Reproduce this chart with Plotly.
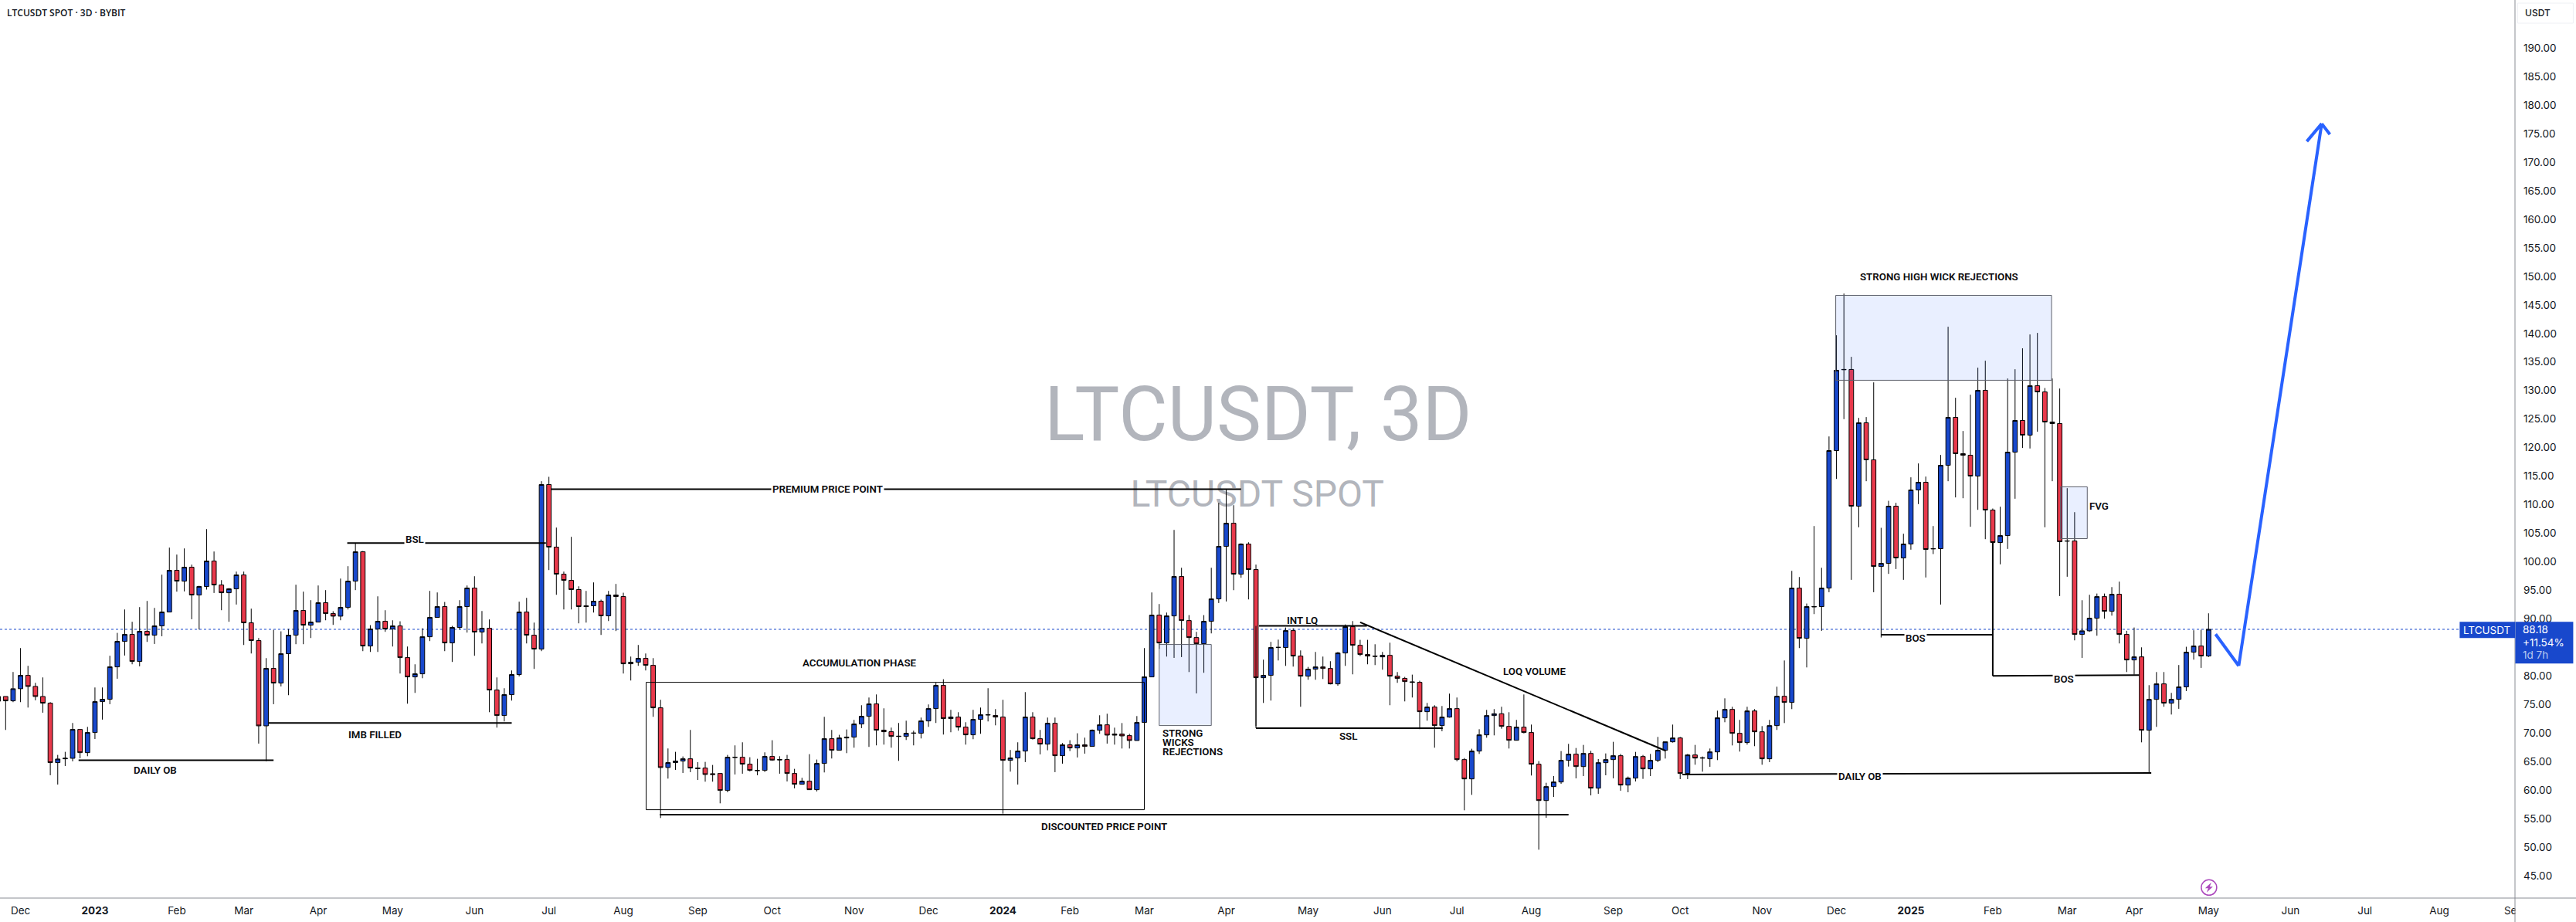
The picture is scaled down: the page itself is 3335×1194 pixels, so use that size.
import plotly.graph_objects as go

# LTCUSDT spot, three-day candles. Candles are addressed by their position in the lists.
opens = [
    75.60,76.42,75.66,77.78,80.12,78.18,76.42,75.25,64.84,65.51,
    65.60,70.65,66.59,70.11,75.52,75.93,81.61,86.07,87.29,82.56,
    87.83,87.16,88.78,91.21,98.52,96.62,99.06,94.19,95.68,100.14,
    95.95,94.59,95.27,97.71,89.32,86.21,71.28,81.34,78.77,83.91,
    87.16,91.48,88.91,89.45,92.84,90.94,90.49,92.02,96.62,101.76,
    85.26,88.24,89.59,88.24,88.78,83.23,79.85,80.39,86.88,90.27,
    92.16,85.80,88.51,92.16,95.41,87.70,88.37,77.55,73.09,76.74,
    80.26,91.21,87.16,84.72,113.53,102.58,97.84,96.76,95.14,92.30,
    92.30,93.11,90.54,94.19,93.92,82.15,82.42,83.10,81.88,74.44,
    63.98,64.84,65.11,65.51,63.89,63.89,62.90,62.94,59.97,65.74,
    65.78,64.57,63.48,63.48,65.92,65.38,65.38,62.94,61.05,61.59,
    60.10,64.70,69.03,67.00,69.16,69.30,71.60,72.95,75.12,70.52,
    70.25,69.48,69.43,69.98,69.98,72.14,74.30,78.36,72.55,72.82,
    71.06,69.71,72.41,73.18,73.09,72.82,65.24,65.65,66.86,72.82,
    69.03,68.08,71.73,66.05,67.95,67.41,67.95,67.68,70.51,71.46,
    69.84,69.84,69.57,68.71,71.87,79.85,90.67,85.80,90.53,97.43,
    89.72,86.74,85.66,89.59,93.51,102.71,106.76,97.84,103.11,98.65,
    79.71,80.12,84.99,84.99,87.96,83.50,79.98,81.20,81.60,81.33,
    78.63,84.04,88.64,85.39,83.77,83.50,83.36,83.63,79.98,79.58,
    78.99,78.90,73.76,74.57,71.32,72.81,74.30,65.37,61.99,66.86,
    69.70,73.08,73.40,71.19,68.75,71.05,70.11,64.56,58.20,60.64,
    61.45,65.24,66.32,64.15,66.45,60.37,64.83,65.37,66.05,60.91,
    62.13,65.91,63.75,65.24,67.00,68.48,69.16,62.94,66.18,65.69,
    65.51,66.72,72.68,74.16,69.97,68.35,73.89,70.24,65.51,71.32,
    76.46,75.38,95.40,86.61,92.11,92.16,95.41,119.48,133.64,133.69,
    109.75,124.35,117.86,99.19,99.74,109.75,100.68,103.12,112.59,113.94,
    102.26,102.31,116.91,125.30,118.94,118.67,115.02,130.04,109.07,103.39,
    104.60,119.21,124.76,122.19,130.85,129.76,124.49,124.22,103.61,103.65,
    87.29,87.92,90.13,93.91,91.34,94.32,87.29,82.82,83.36,70.51,
    75.92,78.63,75.25,75.93,78.10,84.18,85.26,83.51,
]
highs = [
    79.13,76.42,80.71,84.90,81.79,78.81,79.76,75.43,66.19,66.73,
    71.78,70.65,71.10,78.00,78.00,83.55,87.56,91.66,89.50,92.07,
    93.15,91.93,97.75,102.49,101.27,102.35,99.51,95.81,105.73,101.81,
    96.80,95.41,98.29,98.29,91.80,86.66,83.14,88.10,87.83,88.24,
    95.99,94.78,93.29,95.86,95.05,91.35,97.07,99.24,103.25,101.90,
    88.91,93.96,91.53,89.77,89.59,85.17,82.06,88.37,94.91,94.64,
    92.97,88.78,93.29,95.86,97.48,91.39,89.91,79.76,77.87,80.98,
    93.02,93.69,89.36,114.12,114.89,106.00,98.29,104.38,95.72,94.91,
    96.40,93.38,94.91,96.13,94.59,83.41,85.44,83.95,83.14,75.84,
    67.32,66.73,65.92,70.56,64.93,64.97,64.43,62.94,66.19,67.86,
    68.40,65.78,65.51,66.64,68.76,65.96,66.19,63.75,62.18,66.32,
    65.38,72.86,70.56,69.71,70.65,72.32,74.89,76.24,76.78,74.35,
    70.97,71.78,72.18,70.43,72.73,75.03,78.81,79.44,74.08,73.67,
    71.91,74.08,74.48,77.87,74.21,75.84,67.05,68.40,77.19,73.67,
    70.56,72.73,72.73,68.26,68.76,69.98,69.21,70.65,73.13,73.40,
    70.96,71.77,69.88,72.99,84.90,94.64,92.61,91.12,105.59,98.96,
    90.67,87.74,90.67,98.96,110.33,112.72,109.92,103.25,103.43,99.51,
    82.87,85.98,86.38,88.50,88.37,84.49,81.60,84.22,83.41,82.60,
    84.22,89.04,89.63,86.34,86.34,85.57,84.22,85.84,80.70,79.85,
    80.25,79.17,75.29,74.89,74.75,76.92,76.24,65.64,67.27,70.69,
    74.07,74.21,74.62,73.67,72.32,76.78,71.50,65.10,61.31,62.49,
    66.86,68.12,67.40,67.94,66.90,65.46,66.45,68.48,66.36,62.40,
    66.72,66.18,66.36,69.34,68.48,71.50,69.34,66.36,67.94,65.91,
    67.31,73.94,76.10,74.62,72.32,74.62,74.21,71.23,72.32,78.13,
    82.73,98.42,97.34,92.70,106.27,98.96,121.96,139.68,146.99,135.90,
    125.21,125.35,131.43,105.96,110.69,110.33,104.92,114.80,117.23,114.93,
    106.27,118.72,141.17,128.73,122.91,129.27,134.00,135.22,109.34,109.65,
    132.11,133.73,137.39,139.82,140.09,130.44,132.11,130.35,112.90,108.70,
    93.28,94.23,94.45,94.45,95.58,96.53,87.92,88.50,85.03,78.40,
    80.70,80.70,77.05,81.93,85.13,88.02,88.10,90.99,
]
lows = [
    75.52,70.56,75.43,75.43,74.48,75.75,73.58,62.63,61.00,64.25,
    65.06,65.60,65.96,68.98,72.37,75.07,79.53,83.59,82.06,81.70,
    85.98,85.62,86.97,91.21,94.78,94.82,89.95,88.15,95.14,94.55,
    91.53,89.50,92.52,85.44,83.95,68.17,65.06,75.07,78.18,76.65,
    85.58,85.58,86.66,89.45,89.77,88.96,89.77,91.66,95.05,84.36,
    84.22,84.22,87.74,85.17,80.44,75.16,77.05,79.62,86.12,90.27,
    84.36,82.47,88.15,87.61,83.55,85.71,73.67,70.97,72.05,75.70,
    79.94,85.71,81.25,84.36,98.56,94.23,91.66,91.66,89.23,89.36,
    91.12,87.20,89.63,87.88,80.44,79.22,81.79,80.98,72.86,55.14,
    62.04,63.57,63.03,63.17,61.81,61.50,61.50,57.71,59.65,62.76,
    62.90,63.30,62.63,63.21,65.15,62.90,61.54,60.33,61.00,60.06,
    59.79,63.12,65.56,67.00,66.50,67.45,70.88,67.59,67.86,67.99,
    67.45,65.15,68.80,67.86,69.07,71.10,71.78,69.75,70.16,70.43,
    67.99,68.94,69.89,72.05,71.37,55.91,63.26,61.00,64.93,68.89,
    66.28,67.00,63.17,64.66,66.86,65.74,66.41,67.68,69.88,68.17,
    67.99,67.31,67.31,68.71,71.77,79.80,84.76,83.41,83.18,83.32,
    80.70,76.96,80.57,87.47,92.79,93.06,95.04,97.21,93.42,71.23,
    75.29,75.70,82.73,81.78,81.65,74.62,79.35,79.35,79.48,78.54,
    78.31,81.78,80.30,83.50,82.06,81.92,81.11,74.89,78.81,75.56,
    76.24,70.69,72.18,67.45,70.33,72.72,65.06,56.49,59.19,66.36,
    69.20,69.61,70.78,67.31,68.71,69.97,62.58,49.59,55.18,58.83,
    61.13,64.15,62.08,62.49,59.10,59.38,62.62,62.08,59.92,59.65,
    61.54,61.99,62.49,64.92,65.55,68.35,61.95,61.95,64.47,63.25,
    64.11,65.28,71.91,67.85,66.77,67.99,67.72,64.47,64.92,70.56,
    71.77,74.21,84.90,81.51,90.85,87.92,94.68,114.52,124.99,96.85,
    106.05,114.12,94.68,86.75,97.89,98.74,96.85,102.13,110.11,97.26,
    101.36,92.52,114.12,111.28,111.14,106.14,109.11,103.97,103.03,99.56,
    102.26,111.05,119.94,119.85,122.78,106.05,114.12,94.01,97.39,86.25,
    83.18,87.74,87.06,90.04,90.58,85.71,80.70,80.25,68.39,63.12,
    71.10,74.62,73.26,74.26,77.37,82.87,81.43,83.33,
]
closes = [
    76.42,75.66,77.78,80.12,78.18,76.42,75.25,64.84,65.47,65.60,
    70.65,66.59,70.11,75.52,75.93,81.61,86.07,87.29,82.56,87.83,
    87.16,88.78,91.21,98.52,96.62,99.06,94.19,95.68,100.14,95.95,
    94.59,95.27,97.71,89.32,86.21,71.28,81.34,78.77,83.91,87.16,
    91.48,88.91,89.45,92.84,90.94,90.49,92.02,96.62,101.76,85.26,
    88.24,89.59,88.24,88.78,83.23,79.85,80.39,86.88,90.27,92.16,
    85.80,88.51,92.16,95.41,87.70,88.37,77.55,73.09,76.74,80.26,
    91.21,87.16,84.72,113.53,102.58,97.84,96.76,95.14,92.16,92.16,
    93.11,90.54,94.19,93.92,82.15,82.42,83.10,81.88,74.44,63.98,
    64.84,65.11,65.51,63.89,63.80,62.76,62.76,59.97,65.78,65.78,
    64.57,63.48,63.44,65.92,65.29,65.33,62.94,61.05,61.59,60.10,
    64.70,69.03,67.00,69.16,69.30,71.60,72.95,75.12,70.52,70.25,
    69.43,69.43,69.98,70.02,72.14,74.30,78.36,72.55,72.82,71.06,
    69.71,72.41,73.22,73.22,72.82,65.24,65.65,66.86,72.82,69.03,
    68.08,71.73,66.05,67.95,67.41,67.95,67.68,70.52,71.46,69.66,
    69.66,69.52,68.71,71.87,79.85,90.67,85.80,90.53,97.43,89.72,
    86.74,85.66,89.59,93.51,102.71,106.76,97.84,103.11,98.65,79.71,
    80.12,84.99,85.03,87.96,83.50,79.98,81.20,81.60,81.33,78.63,
    84.04,88.64,85.39,83.77,83.50,83.45,83.63,79.98,79.58,79.03,
    78.90,73.76,74.57,71.32,72.81,74.30,65.37,61.99,66.86,69.70,
    73.08,73.40,71.19,68.75,71.05,70.11,64.56,58.20,60.64,61.45,
    65.24,66.32,64.15,66.45,60.37,64.83,65.37,66.05,60.91,62.13,
    65.91,63.75,65.24,67.00,68.48,69.16,62.94,66.18,65.64,65.64,
    66.72,72.68,74.16,69.97,68.35,73.89,70.24,65.51,71.32,76.46,
    75.38,95.40,86.61,92.16,92.16,95.40,119.48,133.55,133.69,109.75,
    124.35,117.86,99.19,99.74,109.75,100.68,103.12,112.59,113.94,102.17,
    102.31,116.91,125.30,118.94,118.67,115.02,130.04,109.07,103.39,104.60,
    119.21,124.76,122.19,130.85,129.76,124.49,124.22,103.52,103.66,87.29,
    87.92,90.13,93.91,91.34,94.32,87.29,82.82,83.36,70.51,75.92,
    78.63,75.25,75.92,78.10,84.18,85.26,83.51,88.18,
]

month_ticks = [3, 13, 24, 33, 43, 53, 64, 74, 84, 94, 104, 115, 125, 135, 144, 154, 165, 176,
               186, 196, 206, 217, 226, 237, 247, 257, 268, 278, 287, 297, 308, 318, 328, 338]
month_labels = ["Dec", "<b>2023</b>", "Feb", "Mar", "Apr", "May", "Jun", "Jul", "Aug", "Sep", "Oct", "Nov",
                "Dec", "<b>2024</b>", "Feb", "Mar", "Apr", "May", "Jun", "Jul", "Aug", "Sep", "Oct", "Nov",
                "Dec", "<b>2025</b>", "Feb", "Mar", "Apr", "May", "Jun", "Jul", "Aug", "Sep"]
price_ticks = list(range(45, 195, 5))
last_price = 88.18

# Hand-drawn levels: (first candle, first price, last candle, last price, width)
levels = [
    (10.8, 65.25, 37.0, 65.25, 2),      # daily order block, left
    (36.3, 71.78, 69.0, 71.78, 2),      # imbalance filled
    (46.9, 103.30, 73.6, 103.30, 2),    # buy-side liquidity
    (74.3, 112.72, 167.0, 112.72, 2),   # premium level
    (88.9, 55.73, 211.0, 55.73, 2),     # discount level
    (169.4, 88.78, 183.9, 88.78, 2),    # internal liquidity
    (169.0, 70.88, 194.1, 70.88, 2),    # sell-side liquidity
    (169.0, 88.78, 169.0, 70.88, 1),
    (183.0, 89.41, 224.05, 66.91, 2),   # falling volume trend
    (226.3, 62.76, 289.3, 63.03, 2),    # daily order block, right
    (253.0, 87.24, 268.0, 87.24, 2),    # first break of structure
    (268.0, 103.40, 268.0, 80.03, 2),
    (268.0, 80.03, 287.7, 80.16, 2),    # second break of structure
]

# Shaded and outlined zones: (left candle, top price, right candle, bottom price, filled)
zones = [
    (87.06, 78.90, 154.0, 56.59, False),
    (156.0, 85.53, 163.0, 71.33, True),
    (246.9, 146.67, 275.9, 131.80, True),
    (277.1, 113.13, 280.7, 104.07, True),
]

# Chart notes: (text, candle, price, masks the level it sits on)
notes = [
    ("DAILY OB", 21.1, 63.45, False),
    ("IMB FILLED", 50.67, 69.66, False),
    ("BSL", 56.0, 103.95, True),
    ("PREMIUM PRICE POINT", 111.4, 112.75, True),
    ("ACCUMULATION PHASE", 115.75, 82.24, False),
    ("DISCOUNTED PRICE POINT", 148.6, 53.66, False),
    ("INT LQ", 175.2, 89.80, False),
    ("SSL", 181.4, 69.43, False),
    ("LOQ VOLUME", 206.4, 80.75, False),
    ("DAILY OB", 250.2, 62.40, True),
    ("BOS", 257.6, 86.57, True),
    ("BOS", 277.6, 79.44, True),
    ("STRONG HIGH WICK REJECTIONS", 260.8, 149.88, False),
]
left_notes = [
    ("FVG", 280.9, 109.70),
    ("STRONG", 156.3, 70.00),
    ("WICKS", 156.3, 68.38),
    ("REJECTIONS", 156.3, 66.75),
]

# Projected path and its arrow head
path_candles = [297.94, 301.05, 312.2]
path_prices = [87.34, 81.79, 176.74]
head_candles = [310.2, 312.2, 313.3]
head_prices = [173.63, 176.74, 174.85]

PAGE_W, PAGE_H = 3335, 1194
PLOT_W, PLOT_H = 3255.6, 1162.7
INK = "#131722"
NOTE_INK = "#0b0b0d"
BLUE = "#1848cc"
RED = "#e8394b"
ZONE_FILL = "rgba(41,98,255,0.10)"
ZONE_EDGE = "#5d606b"
ARROW = "#2962ff"
NOTE_FONT = dict(family="Roboto", size=13.3, color=NOTE_INK, weight=600)
AXIS_FONT = dict(family="Inter", size=13.5, color=INK)


def fx(px):
    return px / PLOT_W


def fy(py):
    return 1 - py / PLOT_H


fig = go.Figure()

# The watermark sits on the base axes so the candles, on the overlaying axes, cover it.
fig.add_trace(go.Scatter(
    x=[fx(1628.5), fx(1627.5)], y=[fy(545.5), fy(644)],
    text=["LTCUSDT, 3D", "LTCUSDT SPOT"], mode="text",
    textposition="middle center", hoverinfo="skip", showlegend=False,
    textfont=dict(family="Roboto", size=[97.5, 48], color="#b2b5bc"),
))
fig.add_trace(go.Candlestick(
    x=list(range(len(closes))), open=opens, high=highs, low=lows, close=closes,
    xaxis="x2", yaxis="y2", whiskerwidth=0, showlegend=False, hoverinfo="skip",
    increasing=dict(fillcolor=BLUE, line=dict(color="#000000", width=1)),
    decreasing=dict(fillcolor=RED, line=dict(color="#000000", width=1)),
))

shapes = [
    dict(type="line", xref="paper", yref="y2", x0=0, x1=fx(3184), y0=last_price, y1=last_price,
         layer="below", line=dict(color=BLUE, width=1, dash="dot")),
]
for x0, y0, x1, y1, w in levels:
    shapes.append(dict(type="line", xref="x2", yref="y2", x0=x0, y0=y0, x1=x1, y1=y1,
                       layer="above", line=dict(color="#000000", width=w)))
for x0, y0, x1, y1, filled in zones:
    shapes.append(dict(type="rect", xref="x2", yref="y2", x0=x0, y0=y0, x1=x1, y1=y1, layer="above",
                       fillcolor=ZONE_FILL if filled else "rgba(0,0,0,0)",
                       line=dict(color=ZONE_EDGE if filled else "#000000", width=1)))
for xs, ys in ((path_candles, path_prices), (head_candles, head_prices)):
    for i in range(len(xs) - 1):
        shapes.append(dict(type="line", xref="x2", yref="y2", x0=xs[i], y0=ys[i], x1=xs[i + 1], y1=ys[i + 1],
                           layer="above", line=dict(color=ARROW, width=4)))

# Axis frame, last-price tags, currency badge and the event marker
shapes += [
    dict(type="rect", xref="paper", yref="paper", x0=fx(PLOT_W + 0.5), x1=fx(PAGE_W), y0=fy(1163.5), y1=fy(PAGE_H),
         layer="above", fillcolor="#ffffff", line=dict(width=0)),
    dict(type="line", xref="paper", yref="paper", x0=fx(PLOT_W), x1=fx(PLOT_W), y0=fy(0), y1=fy(PAGE_H),
         layer="above", line=dict(color="#8a8d94", width=1)),
    dict(type="line", xref="paper", yref="paper", x0=0, x1=fx(PAGE_W), y0=fy(PLOT_H), y1=fy(PLOT_H),
         layer="above", line=dict(color="#8a8d94", width=1)),
    dict(type="rect", xref="paper", yref="paper", x0=fx(3184), x1=fx(3255.6), y0=fy(805), y1=fy(826),
         layer="above", fillcolor=BLUE, line=dict(width=0)),
    dict(type="rect", xref="paper", yref="paper", x0=fx(3256), x1=fx(3331), y0=fy(805), y1=fy(859),
         layer="above", fillcolor=BLUE, line=dict(width=0)),
    dict(type="rect", xref="paper", yref="paper", x0=fx(3259), x1=fx(3331), y0=fy(4), y1=fy(30),
         layer="above", fillcolor="#ffffff", line=dict(color="#eef0f4", width=1)),
    dict(type="circle", xref="paper", yref="paper", x0=fx(2849.5), x1=fx(2869.5), y0=fy(1139), y1=fy(1159),
         layer="above", fillcolor="#ffffff", line=dict(color="#ab47bc", width=1.5)),
    dict(type="path", xref="paper", yref="paper", layer="above", fillcolor="#ab47bc", line=dict(width=0),
         path=(f"M{fx(2862.5)},{fy(1142.5)} L{fx(2854.5)},{fy(1150)} L{fx(2858.5)},{fy(1150)} "
               f"L{fx(2856.5)},{fy(1155.5)} L{fx(2864.5)},{fy(1148)} L{fx(2860.5)},{fy(1148)} Z")),
]

annotations = []
for text, x, y, mask in notes:
    annotations.append(dict(text=text, xref="x2", yref="y2", x=x, y=y, showarrow=False, font=NOTE_FONT,
                            xanchor="center", yanchor="middle",
                            bgcolor="#ffffff" if mask else "rgba(0,0,0,0)", borderpad=1))
for text, x, y in left_notes:
    annotations.append(dict(text=text, xref="x2", yref="y2", x=x, y=y, showarrow=False, font=NOTE_FONT,
                            xanchor="left", yanchor="middle", borderpad=0))


def page_text(text, px, py, color, size=13.5, family="Inter", weight=400, anchor="left"):
    annotations.append(dict(text=text, xref="paper", yref="paper", x=fx(px), y=fy(py), showarrow=False,
                            xanchor=anchor, yanchor="middle", borderpad=0,
                            font=dict(family=family, size=size, color=color, weight=weight)))


page_text("LTCUSDT SPOT · 3D · BYBIT", 8, 16, INK, size=12, family="Open Sans", weight=600)
page_text("USDT", 3268, 16, INK, size=12, weight=500)
page_text("LTCUSDT", 3188, 815.5, "#ffffff")
page_text(f"{last_price:.2f}", 3265, 815, "#ffffff")
page_text("+11.54%", 3265, 831.5, "#ffffff")
page_text("1d 7h", 3265, 848, "#b9c8f0")

fig.update_layout(
    width=PAGE_W, height=PAGE_H, autosize=False,
    margin=dict(l=0, r=PAGE_W - PLOT_W, t=0, b=PAGE_H - PLOT_H, pad=0),
    paper_bgcolor="#ffffff", plot_bgcolor="#ffffff",
    showlegend=False, hovermode=False,
    boxgap=0.3, boxgroupgap=0.14,
    shapes=shapes, annotations=annotations,
    xaxis=dict(range=[0, 1], visible=False, fixedrange=True),
    yaxis=dict(range=[0, 1], visible=False, fixedrange=True),
    xaxis2=dict(overlaying="x", anchor="y2", side="bottom", range=[0.242, 338.17],
                tickmode="array", tickvals=month_ticks, ticktext=month_labels, tickfont=AXIS_FONT,
                showgrid=False, zeroline=False, ticks="", showline=False,
                rangeslider=dict(visible=False), fixedrange=True, ticklabelstandoff=6),
    yaxis2=dict(overlaying="y", anchor="x2", side="right", range=[41.12, 198.39],
                tickmode="array", tickvals=price_ticks, ticktext=[f"{v:.2f}" for v in price_ticks],
                tickfont=AXIS_FONT, showgrid=False, zeroline=False, ticks="", showline=False,
                fixedrange=True, ticklabelstandoff=10),
)

fig.write_html("out.html", config=dict(displayModeBar=False))
